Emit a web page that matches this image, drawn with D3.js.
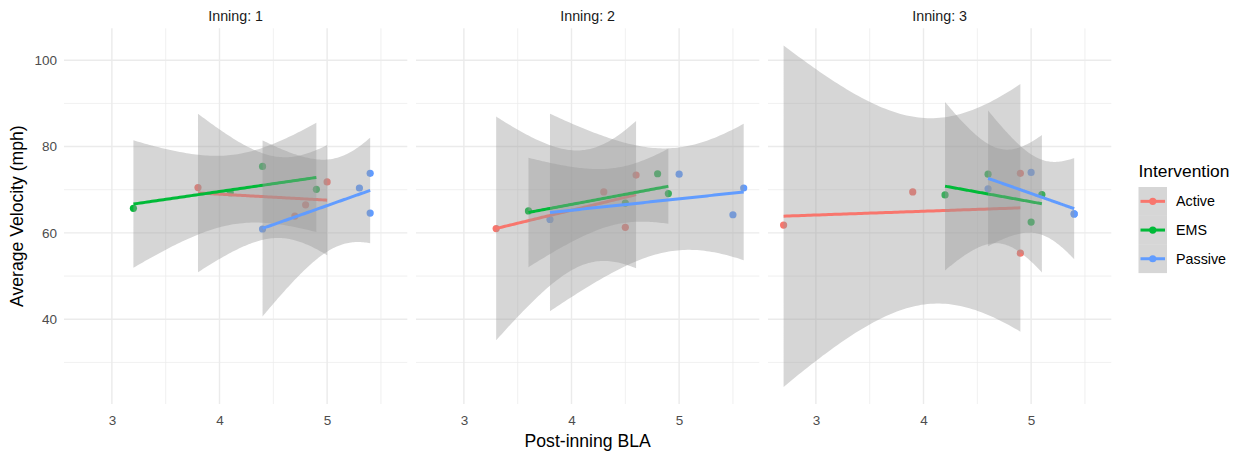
<!DOCTYPE html>
<html>
<head>
<meta charset="utf-8">
<script src="https://cdn.jsdelivr.net/npm/d3@7"></script>
<style>
  body { margin: 0; background: #fff; }
  svg { font-family: "Liberation Sans", Arial, sans-serif; }
</style>
</head>
<body>
<svg id="chart" width="1236" height="453"></svg>
<script>
// facets, groups and colours
const innings = [1, 2, 3];
const interventions = ['Active', 'EMS', 'Passive'];
const groupColors = ['#F8766D', '#00BA38', '#619CFF'];

// every inning has 4 pitchers per intervention, in this order
const pointGroup = ['Active', 'Active', 'Active', 'Active', 'EMS', 'EMS', 'EMS', 'EMS', 'Passive', 'Passive', 'Passive', 'Passive'];

// post-inning BLA (x) per inning
const blaInning1 = [3.8, 4.7, 4.8, 5.0, 3.2, 4.1, 4.4, 4.9, 4.4, 5.3, 5.4, 5.4];
const blaInning2 = [3.3, 4.3, 4.5, 4.6, 3.6, 4.5, 4.8, 4.9, 3.8, 5.0, 5.5, 5.6];
const blaInning3 = [2.7, 3.9, 4.9, 4.9, 4.2, 4.6, 5.0, 5.1, 4.6, 5.0, 5.4, 5.4];

// average velocity (mph) per inning
const velInning1 = [70.5, 63.9, 66.5, 71.8, 65.7, 69.3, 75.4, 70.1, 60.9, 70.4, 73.8, 64.6];
const velInning2 = [61.0, 69.5, 61.3, 73.4, 65.1, 66.9, 73.7, 69.1, 63.1, 73.6, 64.2, 70.4];
const velInning3 = [61.8, 69.5, 73.8, 55.3, 68.8, 73.6, 62.5, 68.9, 70.2, 74.0, 64.4, 64.4];

// axis ticks
const xTicks = [3, 4, 5];
const yTicks = [40, 60, 80, 100];

// 97.5% t quantiles by degrees of freedom (for the 95% band of geom_smooth)
const tCrit = [NaN, 12.706, 4.303, 3.182, 2.776, 2.571, 2.447, 2.365, 2.306, 2.262, 2.228];

const blaByInning = [blaInning1, blaInning2, blaInning3];
const velByInning = [velInning1, velInning2, velInning3];

const svg = d3.select('#chart');
const panelTop = 28.3, panelBottom = 404;
const panelW = 343.3, panelGap = 8.7, firstLeft = 64;
const panelLeft = i => firstLeft + i * (panelW + panelGap);

// linear fit with standard error of the mean prediction, like lm + predict(se = TRUE)
function fitLm(xs, ys) {
  const n = xs.length;
  const mx = d3.mean(xs), my = d3.mean(ys);
  const sxx = d3.sum(xs, x => (x - mx) ** 2);
  const sxy = d3.sum(xs, (x, i) => (x - mx) * (ys[i] - my));
  const b = sxy / sxx, a = my - b * mx;
  const sse = d3.sum(xs, (x, i) => (ys[i] - (a + b * x)) ** 2);
  const s = Math.sqrt(sse / (n - 2));
  const t = tCrit[n - 2];
  return x => {
    const fit = a + b * x;
    const half = t * s * Math.sqrt(1 / n + (x - mx) ** 2 / sxx);
    return { x: x, fit: fit, lo: fit - half, hi: fit + half };
  };
}

// build smooth curves (80 points over each group's x range)
const smooths = innings.map((inn, p) => interventions.map((g, gi) => {
  const xs = [], ys = [];
  pointGroup.forEach((pg, i) => { if (pg === g) { xs.push(blaByInning[p][i]); ys.push(velByInning[p][i]); } });
  const f = fitLm(xs, ys);
  const [x0, x1] = d3.extent(xs);
  return d3.range(80).map(k => f(x0 + (x1 - x0) * k / 79));
}));

// shared scales with ggplot's 5% expansion
const allX = blaByInning.flat();
const allY = velByInning.flat().concat(smooths.flat(2).flatMap(d => [d.lo, d.hi]));
const expand = ([lo, hi]) => [lo - (hi - lo) * 0.05, hi + (hi - lo) * 0.05];
const xScale = d3.scaleLinear().domain(expand(d3.extent(allX))).range([0, panelW]);
const yScale = d3.scaleLinear().domain(expand(d3.extent(allY))).range([panelBottom, panelTop]);

const xMinor = d3.range(2.5, 6.01, 1).filter(v => v > xScale.domain()[0] && v < xScale.domain()[1]);
const yMinor = d3.range(10, 111, 20).filter(v => v > yScale.domain()[0] && v < yScale.domain()[1]);

const area = d3.area().x(d => xScale(d.x)).y0(d => yScale(d.lo)).y1(d => yScale(d.hi));
const line = d3.line().x(d => xScale(d.x)).y(d => yScale(d.fit));

innings.forEach((inn, p) => {
  const g = svg.append('g').attr('transform', `translate(${panelLeft(p)},0)`);

  // grid
  g.selectAll('.ymin').data(yMinor).join('line')
    .attr('x1', 0).attr('x2', panelW).attr('y1', d => yScale(d)).attr('y2', d => yScale(d))
    .attr('stroke', '#EBEBEB').attr('stroke-width', 0.75);
  g.selectAll('.xmin').data(xMinor).join('line')
    .attr('x1', d => xScale(d)).attr('x2', d => xScale(d)).attr('y1', panelTop).attr('y2', panelBottom)
    .attr('stroke', '#EBEBEB').attr('stroke-width', 0.75);
  g.selectAll('.ymaj').data(yTicks).join('line')
    .attr('x1', 0).attr('x2', panelW).attr('y1', d => yScale(d)).attr('y2', d => yScale(d))
    .attr('stroke', '#EBEBEB').attr('stroke-width', 1.4);
  g.selectAll('.xmaj').data(xTicks).join('line')
    .attr('x1', d => xScale(d)).attr('x2', d => xScale(d)).attr('y1', panelTop).attr('y2', panelBottom)
    .attr('stroke', '#EBEBEB').attr('stroke-width', 1.4);

  // points first, smooth layers drawn on top of them
  g.selectAll('circle').data(blaByInning[p]).join('circle')
    .attr('cx', d => xScale(d))
    .attr('cy', (d, i) => yScale(velByInning[p][i]))
    .attr('r', 3.6)
    .attr('fill', (d, i) => groupColors[interventions.indexOf(pointGroup[i])]);

  smooths[p].forEach((curve, gi) => {
    g.append('path').attr('d', area(curve)).attr('fill', '#999999').attr('fill-opacity', 0.4);
    g.append('path').attr('d', line(curve)).attr('fill', 'none')
      .attr('stroke', groupColors[gi]).attr('stroke-width', 3);
  });

  // strip label
  g.append('text').attr('x', panelW / 2).attr('y', 20.8).attr('text-anchor', 'middle')
    .attr('font-size', 14.3).attr('fill', '#1A1A1A').text(`Inning: ${inn}`);

  // x axis
  const xAxis = g.append('g').attr('transform', `translate(0,${panelBottom})`)
    .call(d3.axisBottom(xScale).tickValues(xTicks).tickSize(0).tickPadding(11).tickFormat(d3.format('d')));
  xAxis.select('.domain').remove();
  xAxis.selectAll('text').attr('font-size', 13.5).attr('fill', '#4D4D4D').attr('font-family', null);

  if (p === 0) {
    const yAxis = g.append('g')
      .call(d3.axisLeft(yScale).tickValues(yTicks).tickSize(0).tickPadding(7));
    yAxis.select('.domain').remove();
    yAxis.selectAll('text').attr('font-size', 13.5).attr('fill', '#4D4D4D').attr('font-family', null);
  }
});

// axis titles
svg.append('text').attr('x', (firstLeft + panelLeft(2) + panelW) / 2).attr('y', 446.5)
  .attr('text-anchor', 'middle').attr('font-size', 17.6).attr('fill', '#000').text('Post-inning BLA');
svg.append('text').attr('transform', `translate(23,${(panelTop + panelBottom) / 2}) rotate(-90)`)
  .attr('text-anchor', 'middle').attr('font-size', 17.6).attr('fill', '#000').text('Average Velocity (mph)');

// legend
const legend = svg.append('g').attr('transform', 'translate(1138.5,0)');
legend.append('text').attr('x', 0).attr('y', 177).attr('font-size', 17.4).attr('fill', '#000').text('Intervention');
const keyH = 28.7, keyTop = 187;
interventions.forEach((name, i) => {
  const cy = keyTop + keyH * i + keyH / 2;
  legend.append('rect').attr('x', 0).attr('y', keyTop + keyH * i).attr('width', 28.5).attr('height', keyH)
    .attr('fill', '#999999').attr('fill-opacity', 0.4);
  legend.append('line').attr('x1', 2).attr('x2', 26.5).attr('y1', cy).attr('y2', cy)
    .attr('stroke', groupColors[i]).attr('stroke-width', 3);
  legend.append('circle').attr('cx', 14.25).attr('cy', cy).attr('r', 3.6).attr('fill', groupColors[i]);
  legend.append('text').attr('x', 37.5).attr('y', cy + 5).attr('font-size', 14.3).attr('fill', '#000').text(name);
});
</script>
</body>
</html>
